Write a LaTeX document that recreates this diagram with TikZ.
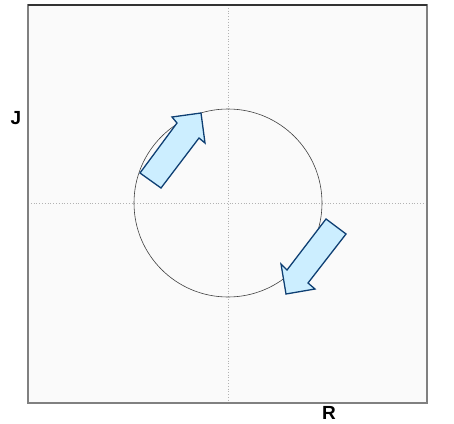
\documentclass[tikz,border=0pt]{standalone}
\usepackage{fontspec}
\setmainfont{Liberation Sans}
\definecolor{plotBack}{HTML}{FAFAFA}
\definecolor{plotFrame}{HTML}{808080}
\definecolor{arrowFill}{HTML}{CCEEFF}
\definecolor{arrowEdge}{HTML}{0E3F73}
\begin{document}
\begin{tikzpicture}[x=1pt,y=-1pt,
  axislabel/.style={font=\fontsize{19}{20}\selectfont\bfseries,inner sep=0pt},
  bigarrow/.style={fill=arrowFill,draw=arrowEdge,line width=1.3pt,line join=miter}]
\useasboundingbox[fill=white] (0,0) rectangle (454,423);
\fill[plotBack] (28,5) rectangle (427,403);
\draw[gray!60,dotted,line width=0.8pt] (228,5) -- (228,403);
\draw[gray!60,dotted,line width=0.8pt] (28,203) -- (427,203);
\draw[black!75,line width=0.6pt] (228,203) circle (94);
\draw[plotFrame,line width=1.2pt] (28,5) rectangle (427,403);
\draw[black!80,line width=1.2pt] (28,5) -- (427,5);
\draw[bigarrow] (140,173) -- (177,123) -- (172,117) -- (201,113) -- (205,143) -- (199,138) -- (161,188) -- cycle;
\draw[bigarrow] (326,219) -- (346,234) -- (308,283) -- (315,289) -- (286,294) -- (281,264) -- (287,270) -- cycle;
\node[axislabel] (jlabel) at (16,118) {J};
\node[axislabel] (rlabel) at (329,413) {R};
\end{tikzpicture}
\end{document}
